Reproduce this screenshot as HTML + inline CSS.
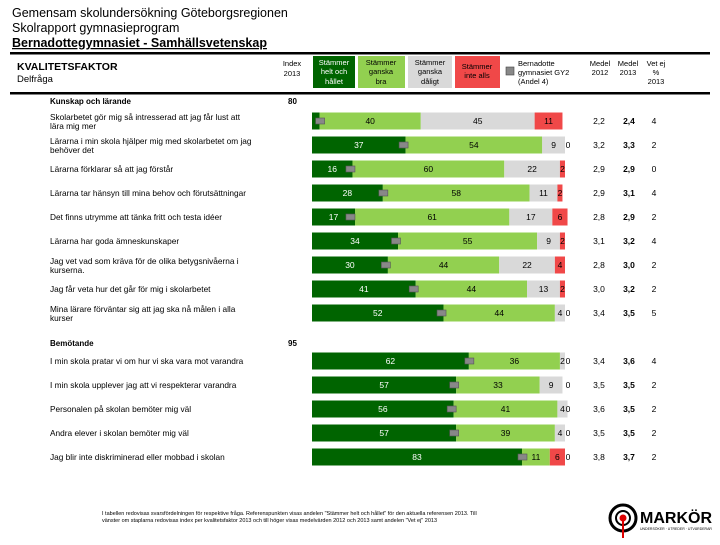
<!DOCTYPE html>
<html><head><meta charset="utf-8"><style>
body{margin:0;background:#fff;width:720px;height:540px;overflow:hidden}
svg text{font-family:"Liberation Sans",sans-serif}
</style></head><body>
<svg id="c" width="720" height="540" viewBox="0 0 720 540" xmlns="http://www.w3.org/2000/svg">
<g font-size="12.5" fill="#000">
<text x="12" y="17">Gemensam skolundersökning Göteborgsregionen</text>
<text x="12" y="32">Skolrapport gymnasieprogram</text>
<text x="12" y="47" font-weight="bold" text-decoration="underline">Bernadottegymnasiet - Samhällsvetenskap</text>
</g>
<rect x="10" y="52" width="700" height="2.5" fill="#000"/>
<rect x="10" y="92" width="700" height="2.5" fill="#000"/>
<text x="17" y="70" font-size="10.5" font-weight="bold">KVALITETSFAKTOR</text>
<text x="17" y="82" font-size="9.5">Delfråga</text>
<g font-size="7.5" text-anchor="middle">
<text x="292" y="66">Index</text><text x="292" y="76">2013</text>
<rect x="313" y="56" width="42" height="32" fill="#006400"/>
<text x="334" y="65" fill="#fff">Stämmer</text><text x="334" y="74" fill="#fff">helt och</text><text x="334" y="84" fill="#fff">hållet</text>
<rect x="358" y="56" width="47" height="32" fill="#92d050"/>
<text x="381" y="65">Stämmer</text><text x="381" y="74">ganska</text><text x="381" y="84">bra</text>
<rect x="408" y="56" width="44" height="32" fill="#d9d9d9"/>
<text x="430" y="65">Stämmer</text><text x="430" y="74">ganska</text><text x="430" y="84">dåligt</text>
<rect x="455" y="56" width="45" height="32" fill="#f04848"/>
<text x="477" y="69">Stämmer</text><text x="477" y="78">inte alls</text>
<rect x="506" y="67" width="8" height="8" fill="#888" stroke="#444" stroke-width="0.6"/>
<text x="518" y="66" text-anchor="start">Bernadotte</text><text x="518" y="75" text-anchor="start">gymnasiet GY2</text><text x="518" y="84" text-anchor="start">(Andel 4)</text>
<text x="600" y="66">Medel</text><text x="600" y="75">2012</text>
<text x="628" y="66">Medel</text><text x="628" y="75">2013</text>
<text x="656" y="66">Vet ej</text><text x="656" y="75">%</text><text x="656" y="84">2013</text>
</g>
<g font-size="8" font-weight="bold">
<text x="50" y="104">Kunskap och lärande</text><text x="288" y="104">80</text>
<text x="50" y="346">Bemötande</text><text x="288" y="346">95</text>
</g>
<g id="rows"></g>
<g font-size="5.5" fill="#000">
<text x="102" y="515">I tabellen redovisas svarsfördelningen för respektive fråga. Referenspunkten visas andelen "Stämmer helt och hållet" för den aktuella referensen 2013. Till</text>
<text x="102" y="522">vänster om staplarna redovisas index per kvalitetsfaktor 2013 och till höger visas medelvärden 2012 och 2013 samt andelen "Vet ej" 2013</text>
</g>
<g>
<circle cx="623" cy="518" r="13" fill="none" stroke="#000" stroke-width="3"/>
<circle cx="623" cy="518" r="7" fill="none" stroke="#000" stroke-width="2"/>
<circle cx="623" cy="518" r="3.5" fill="#d00"/>
<rect x="622" y="518" width="2" height="20" fill="#d00"/>
<text x="640" y="523" font-size="16" font-weight="bold">MARKÖR</text>
<text x="640" y="530" font-size="3.5">UNDERSÖKER · UTREDER · UTVÄRDERAR</text>
</g>
</svg>
<script>
const labels=[["Skolarbetet gör mig så intresserad att jag får lust att","lära mig mer"],["Lärarna i min skola hjälper mig med skolarbetet om jag","behöver det"],["Lärarna förklarar så att jag förstår"],["Lärarna tar hänsyn till mina behov och förutsättningar"],["Det finns utrymme att tänka fritt och testa idéer"],["Lärarna har goda ämneskunskaper"],["Jag vet vad som kräva för de olika betygsnivåerna i","kurserna."],["Jag får veta hur det går för mig i skolarbetet"],["Mina lärare förväntar sig att jag ska nå målen i alla","kurser"],["I min skola pratar vi om hur vi ska vara mot varandra"],["I min skola upplever jag att vi respekterar varandra"],["Personalen på skolan bemöter mig väl"],["Andra elever i skolan bemöter mig väl"],["Jag blir inte diskriminerad eller mobbad i skolan"]];
const helt=[3,37,16,28,17,34,30,41,52,62,57,56,57,83];
const ganska=[40,54,60,58,61,55,44,44,44,36,33,41,39,11];
const daligt=[45,9,22,11,17,9,22,13,4,2,9,4,4,0];
const inte=[11,0,2,2,6,2,4,2,0,0,0,0,0,6];
const ref=[3,36,15,28,15,33,29,40,51,62,56,55,56,83];
const medel2012=["2,2","3,2","2,9","2,9","2,8","3,1","2,8","3,0","3,4","3,4","3,5","3,6","3,5","3,8"];
const medel2013=["2,4","3,3","2,9","3,1","2,9","3,2","3,0","3,2","3,5","3,6","3,5","3,5","3,5","3,7"];
const vetej=["4","2","0","4","2","4","2","2","5","4","2","2","2","2"];
const X0=312,W=253;
const xs=v=>X0+v*W/100;
const rowY=i=>i<9?121+i*24:361+(i-9)*24;
const NS="http://www.w3.org/2000/svg";
const g=document.getElementById('rows');
function mk(t,a,p){const e=document.createElementNS(NS,t);for(const k in a)e.setAttribute(k,a[k]);(p||g).appendChild(e);return e;}
const cols=["#006400","#92d050","#d9d9d9","#f04848"];
const tcol=["#fff","#000","#000","#000"];
for(let i=0;i<labels.length;i++){
  const cy=rowY(i);
  const row=mk('g',{});
  
  
  const L=labels[i];
  if(L.length==2){
    const t1=mk('text',{x:50,y:cy-1,'font-size':8.3},row);t1.textContent=L[0];
    const t2=mk('text',{x:50,y:cy+8,'font-size':8.3},row);t2.textContent=L[1];
  }else{const t=mk('text',{x:50,y:cy+3,'font-size':8.3},row);t.textContent=L[0];}
  const vals=[helt[i],ganska[i],daligt[i],inte[i]];
  let acc=0;
  for(let s=0;s<4;s++){
    const v=vals[s];
    const r=mk('rect',{x:xs(acc),y:cy-8.5,width:v*W/100,height:17,fill:cols[s]},row);
    
    
    let tx=xs(acc+v/2);
    if(v===0)tx=xs(acc)+3+(s===3&&vals[2]===0?0:0);
    if(!(i===0&&s===0)){
      const t=mk('text',{x:v===0?xs(100)+3:tx,y:cy+3,'font-size':8.5,'text-anchor':'middle',fill:tcol[s]},row);
      t.textContent=v;
    }
    acc+=v;
  }
  const m=mk('rect',{x:xs(ref[i])-4,y:cy-3,width:9,height:6,fill:'#888',stroke:'#555','stroke-width':0.6},row);
  
  
  const a=mk('text',{x:599,y:cy+3,'font-size':8.5,'text-anchor':'middle'},row);a.textContent=medel2012[i];
  const b=mk('text',{x:629,y:cy+3,'font-size':8.5,'text-anchor':'middle','font-weight':'bold'},row);b.textContent=medel2013[i];
  const c=mk('text',{x:654,y:cy+3,'font-size':8.5,'text-anchor':'middle'},row);c.textContent=vetej[i];
}
</script>
</body></html>
